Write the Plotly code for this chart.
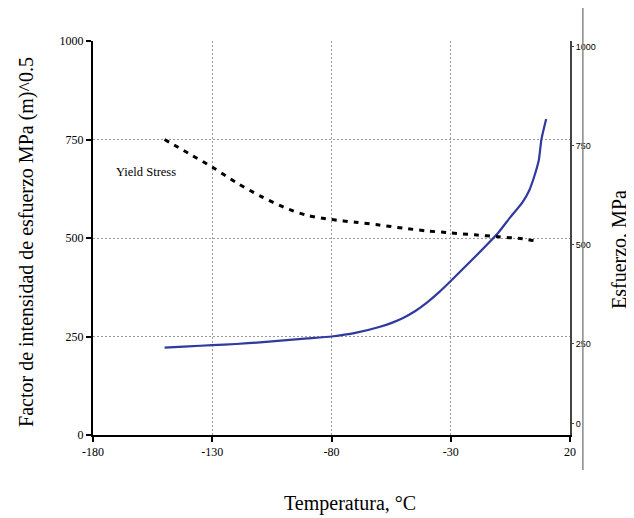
import plotly.graph_objects as go

# Data
temp_k = [-150, -140, -130, -120, -110, -100, -90, -80, -70, -60, -55, -50, -45, -40, -35, -30, -20, -10, -5, 0, 3, 5, 7, 8, 10]
k_factor = [222, 225, 228, 231, 235, 240, 245, 250, 259, 274, 284, 297, 314, 336, 362, 391, 451, 514, 553, 590, 622, 656, 700, 750, 802]

temp_ys = [-150, -140, -130, -120, -110, -100, -90, -80, -70, -60, -50, -40, -30, -20, -10, 0, 5]
yield_stress = [750, 715, 680, 641, 607, 578, 557, 547, 540, 533, 525, 518, 513, 508, 503, 498, 493]

x_ticks = [-180, -130, -80, -30, 20]
x_ticktext = ["-180", "-130", "-80", "-30", "20"]
y_ticks = [0, 250, 500, 750, 1000]
y2_tickvals = [48, 250, 500, 750, 1000]
y2_ticktext = ["0", "250", "500", "750", "1000"]

serif = "Liberation Serif, Times New Roman, serif"
sans = "Liberation Sans, Arial, sans-serif"

fig = go.Figure()
fig.add_trace(go.Scatter(x=temp_k, y=k_factor, mode="lines",
                         line=dict(color="#2E3A9E", width=2.2, shape="spline", smoothing=0.4),
                         showlegend=False))
fig.add_trace(go.Scatter(x=temp_ys, y=yield_stress, mode="lines",
                         line=dict(color="black", width=3, dash="5px,6px", shape="spline", smoothing=0.8),
                         showlegend=False))
# invisible trace to bind right axis
fig.add_trace(go.Scatter(x=[None], y=[None], yaxis="y2", showlegend=False, hoverinfo="skip"))

fig.update_layout(
    width=634, height=518,
    margin=dict(l=85, r=72, t=33, b=91),
    paper_bgcolor="white", plot_bgcolor="white",
    font=dict(family=serif, color="black"),
    xaxis=dict(range=[-180, 20], tickvals=x_ticks, ticktext=x_ticktext, showline=True,
               linecolor="black", linewidth=2,
               ticks="outside", ticklen=5, tickcolor="black", tickwidth=1.5,
               showgrid=True, gridcolor="#999999", griddash="2px,2px", gridwidth=1, zeroline=False,
               tickfont=dict(family=serif, size=12, color="black")),
    yaxis=dict(range=[0, 1000], tickvals=y_ticks, showline=True, linecolor="black", linewidth=2,
               ticks="outside", ticklen=5, tickcolor="black", tickwidth=1.5,
               showgrid=True, gridcolor="#999999", griddash="2px,2px", gridwidth=1, zeroline=False,
               tickfont=dict(family=serif, size=12, color="black")),
    yaxis2=dict(overlaying="y", side="right", anchor="x", range=[20, 1015],
                tickvals=y2_tickvals, ticktext=y2_ticktext, showgrid=False, zeroline=False,
                showline=True, linecolor="#444444", linewidth=2, ticks="outside", ticklen=2,
                tickcolor="#444444", tickfont=dict(family=sans, size=9, color="black")),
    annotations=[
        dict(text="Factor de intensidad de esfuerzo MPa (m)^0.5", xref="paper", yref="paper",
             x=-0.1384, y=0.49, xanchor="center", yanchor="middle", textangle=-90,
             showarrow=False, font=dict(family=serif, size=20)),
        dict(text="Esfuerzo, MPa", xref="paper", yref="paper",
             x=1.103, y=0.47, xanchor="center", yanchor="middle", textangle=-90,
             showarrow=False, font=dict(family=serif, size=20)),
        dict(text="Temperatura, °C", xref="paper", yref="paper",
             x=0.539, y=-0.173, xanchor="center", yanchor="middle",
             showarrow=False, font=dict(family=serif, size=20)),
        dict(text="Yield Stress", x=-171, y=667, xref="x", yref="y", xanchor="left",
             yanchor="middle", showarrow=False, font=dict(family=serif, size=12.5)),
    ],
    shapes=[dict(type="line", xref="paper", yref="paper", x0=1.027, x1=1.027, y0=1.084, y1=-0.089,
                 line=dict(color="#888888", width=1.5))],
)

fig.write_html("out.html")
